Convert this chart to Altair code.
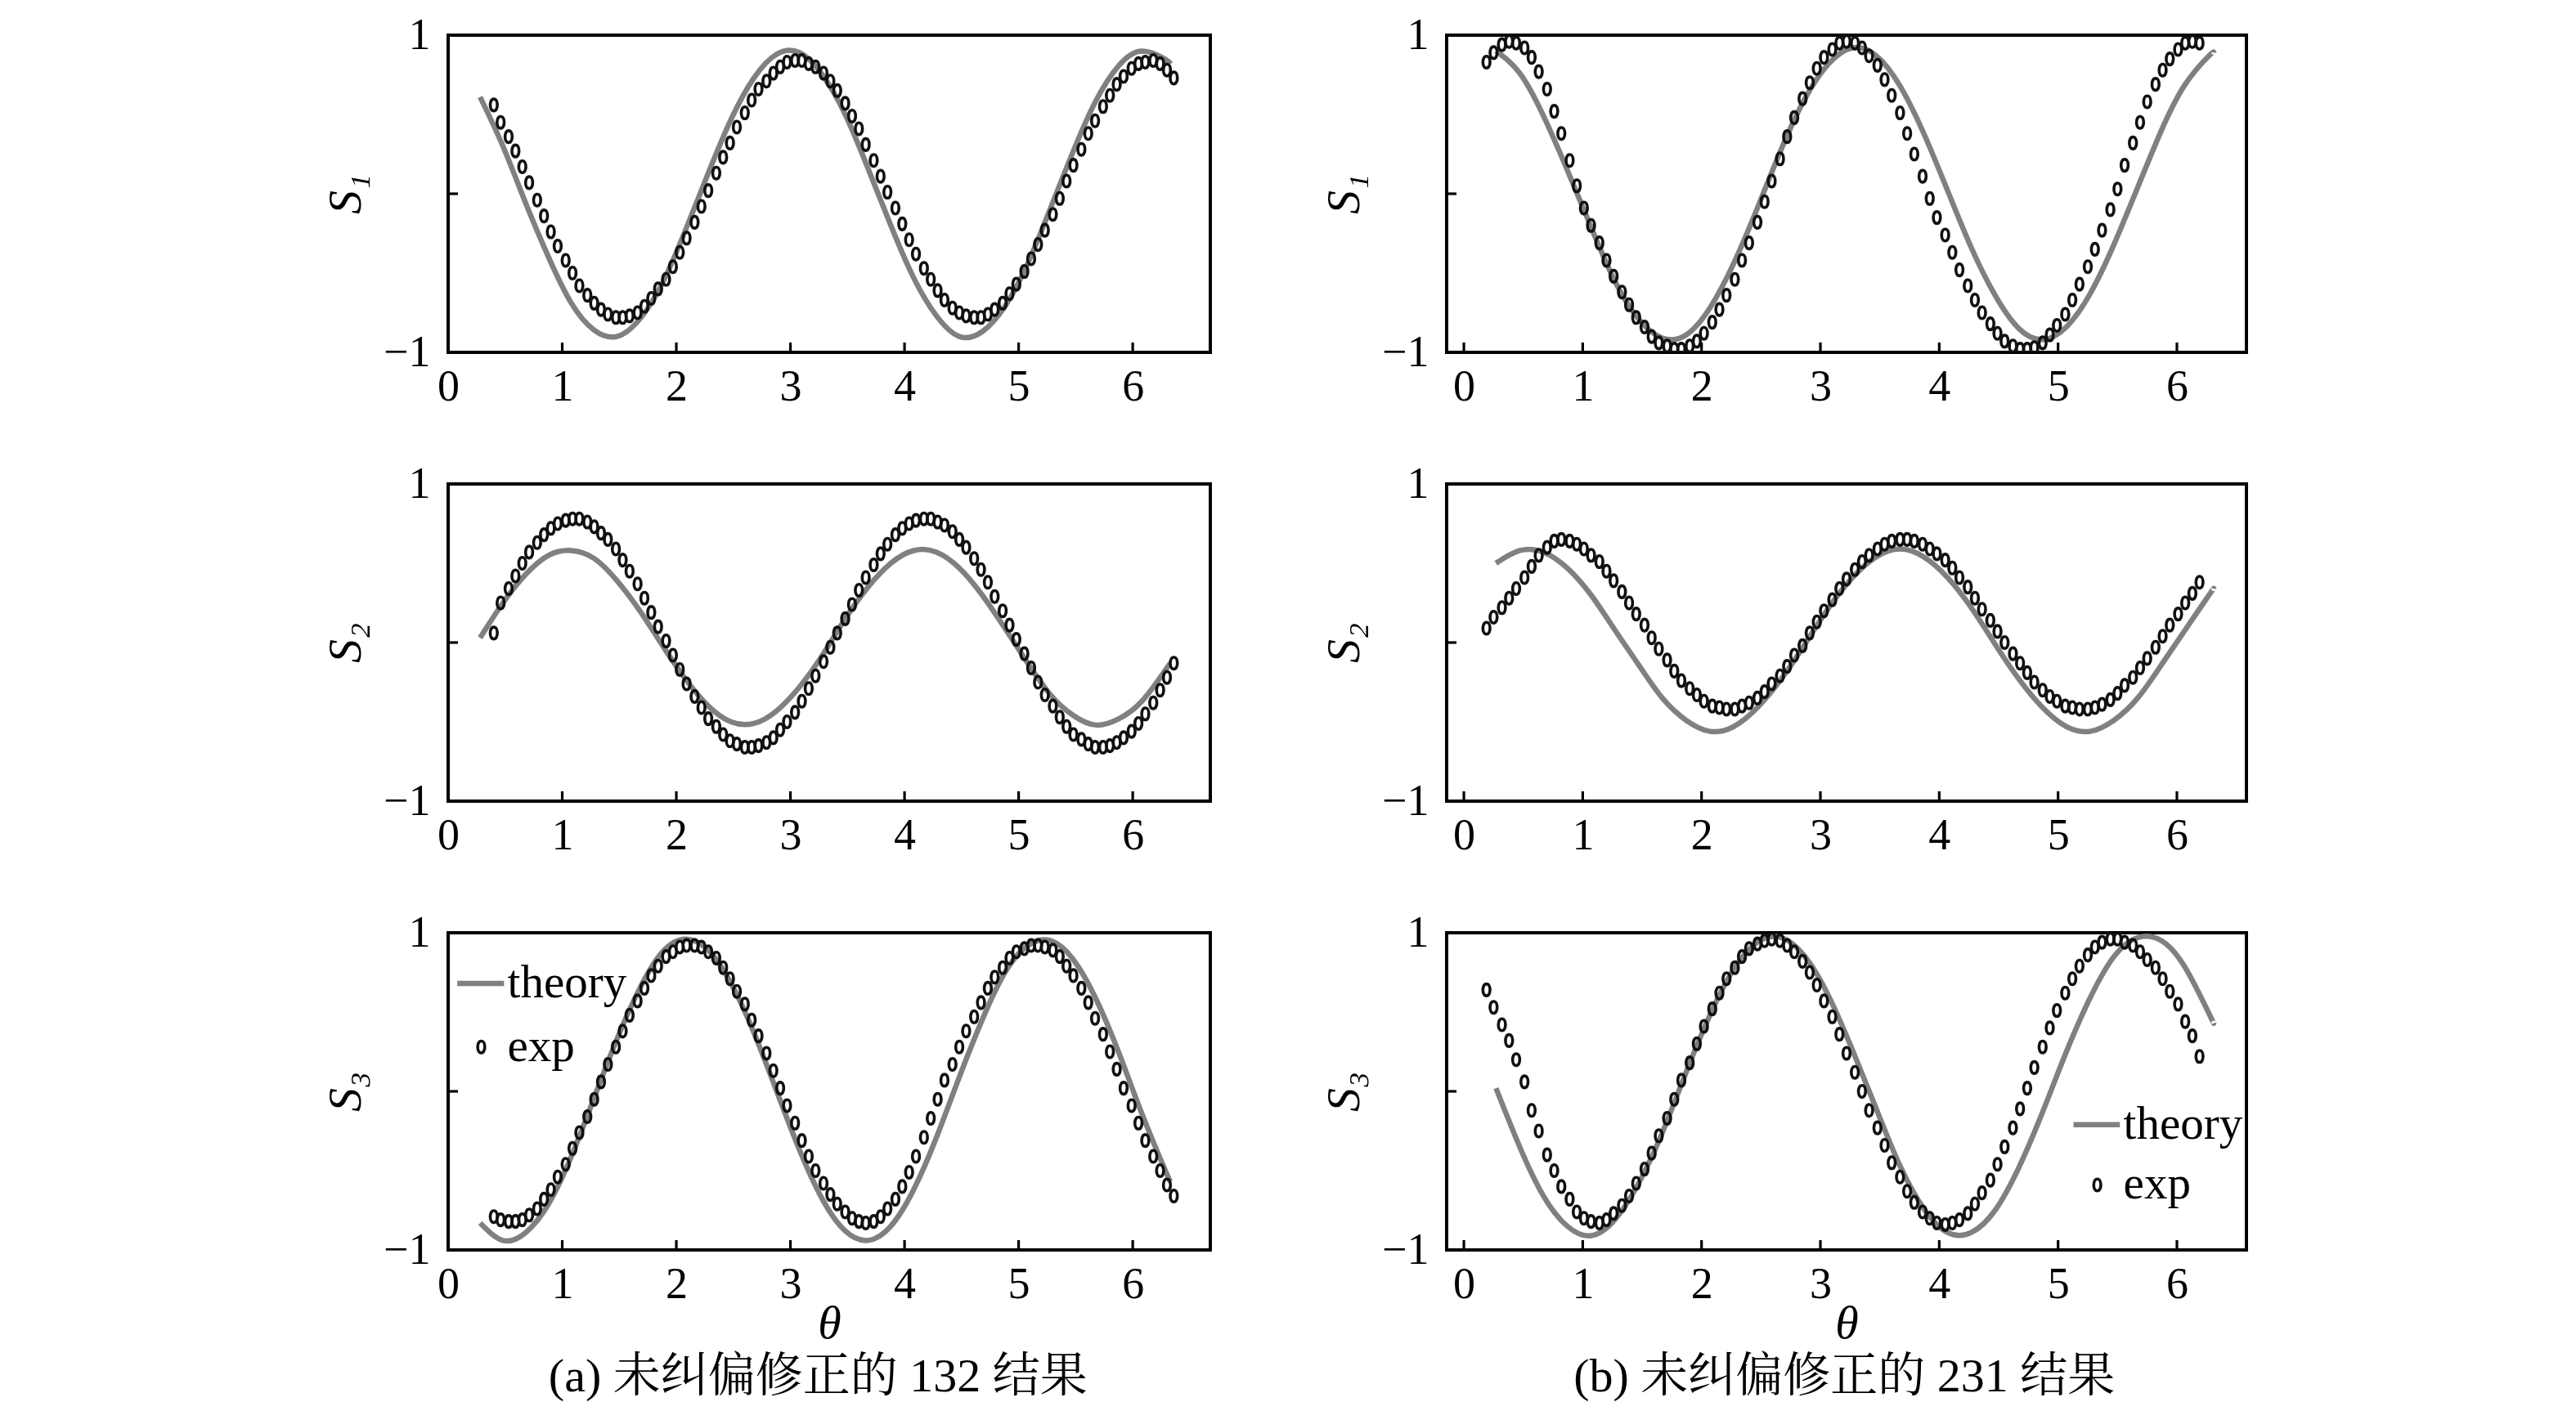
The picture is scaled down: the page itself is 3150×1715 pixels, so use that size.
import altair as alt
import pandas as pd

# ---------------- data ----------------
XTICKS = [0, 1, 2, 3, 4, 5, 6]
YTICKS = [-1, 0, 1]

# experiment angles (column a and column b)
X_A = [0.40,0.46,0.53,0.59,0.65,0.71,0.78,0.84,0.90,0.96,
       1.03,1.09,1.15,1.22,1.28,1.34,1.40,1.47,1.53,1.59,
       1.66,1.72,1.78,1.84,1.91,1.97,2.03,2.09,2.16,2.22,
       2.28,2.35,2.41,2.47,2.53,2.60,2.66,2.72,2.79,2.85,
       2.91,2.97,3.04,3.10,3.16,3.22,3.29,3.35,3.41,3.48,
       3.54,3.60,3.66,3.73,3.79,3.85,3.92,3.98,4.04,4.10,
       4.17,4.23,4.29,4.35,4.42,4.48,4.54,4.61,4.67,4.73,
       4.79,4.86,4.92,4.98,5.05,5.11,5.17,5.23,5.30,5.36,
       5.42,5.48,5.55,5.61,5.67,5.74,5.80,5.86,5.92,5.99,
       6.05,6.11,6.18,6.24,6.30,6.36]
X_B = [0.19,0.25,0.32,0.38,0.44,0.51,0.57,0.63,0.70,0.76,
       0.82,0.89,0.95,1.01,1.07,1.14,1.20,1.26,1.33,1.39,
       1.45,1.52,1.58,1.64,1.71,1.77,1.83,1.90,1.96,2.02,
       2.09,2.15,2.21,2.28,2.34,2.40,2.47,2.53,2.59,2.66,
       2.72,2.78,2.85,2.91,2.97,3.03,3.10,3.16,3.22,3.29,
       3.35,3.41,3.48,3.54,3.60,3.67,3.73,3.79,3.86,3.92,
       3.98,4.05,4.11,4.17,4.24,4.30,4.36,4.43,4.49,4.55,
       4.62,4.68,4.74,4.80,4.87,4.93,4.99,5.06,5.12,5.18,
       5.25,5.31,5.37,5.44,5.50,5.56,5.63,5.69,5.75,5.82,
       5.88,5.94,6.01,6.07,6.13,6.19]

# theory angles
TX_A = [0.28,0.48,0.68,0.88,1.08,1.28,1.48,1.68,1.88,2.08,2.28,2.48,2.68,2.88,3.08,3.28,
        3.48,3.68,3.88,4.08,4.28,4.48,4.68,4.88,5.08,5.28,5.48,5.68,5.88,6.08,6.28,6.33]
TX_B = [0.27,0.47,0.67,0.87,1.07,1.27,1.47,1.67,1.87,2.07,2.27,2.47,2.67,2.87,3.07,3.27,
        3.47,3.67,3.87,4.07,4.27,4.47,4.67,4.87,5.07,5.27,5.47,5.67,5.87,6.07,6.27,6.31]

# (a) 132 without correction
A_S1_TH = [0.61,0.30,-0.06,-0.40,-0.69,-0.86,-0.90,-0.79,-0.56,-0.23,0.13,0.47,0.73,0.88,0.89,0.75,
           0.50,0.16,-0.20,-0.53,-0.77,-0.90,-0.87,-0.71,-0.44,-0.09,0.27,0.59,0.81,0.90,0.85,0.82]
A_S1_EXP = [0.56,0.45,0.36,0.27,0.17,0.07,-0.04,-0.14,-0.24,-0.33,
            -0.42,-0.50,-0.58,-0.64,-0.69,-0.73,-0.76,-0.78,-0.78,-0.77,
            -0.75,-0.71,-0.66,-0.60,-0.54,-0.46,-0.37,-0.28,-0.18,-0.08,
            0.02,0.13,0.23,0.32,0.42,0.51,0.59,0.66,0.71,0.76,
            0.80,0.83,0.84,0.84,0.82,0.80,0.76,0.71,0.65,0.57,
            0.49,0.41,0.31,0.21,0.11,0.01,-0.09,-0.19,-0.29,-0.38,
            -0.47,-0.54,-0.61,-0.67,-0.72,-0.75,-0.77,-0.78,-0.78,-0.76,
            -0.73,-0.69,-0.63,-0.57,-0.49,-0.41,-0.32,-0.23,-0.13,-0.03,
            0.08,0.18,0.28,0.38,0.46,0.55,0.62,0.69,0.74,0.79,
            0.82,0.83,0.84,0.82,0.78,0.73]
A_S2_TH = [0.03,0.25,0.43,0.55,0.58,0.53,0.39,0.20,-0.02,-0.23,-0.40,-0.50,-0.51,-0.43,-0.28,-0.08,
           0.15,0.35,0.50,0.58,0.57,0.47,0.30,0.09,-0.13,-0.33,-0.46,-0.52,-0.48,-0.37,-0.18,-0.13]
A_S2_EXP = [0.06,0.25,0.34,0.42,0.50,0.57,0.63,0.68,0.72,0.75,
            0.77,0.78,0.78,0.76,0.73,0.69,0.65,0.59,0.52,0.45,
            0.37,0.28,0.19,0.10,0.01,-0.08,-0.17,-0.26,-0.34,-0.41,
            -0.48,-0.53,-0.58,-0.62,-0.64,-0.66,-0.66,-0.65,-0.63,-0.60,
            -0.55,-0.50,-0.44,-0.37,-0.29,-0.21,-0.12,-0.03,0.06,0.15,
            0.24,0.33,0.41,0.49,0.56,0.62,0.68,0.72,0.75,0.77,
            0.78,0.78,0.76,0.74,0.70,0.65,0.60,0.53,0.46,0.38,
            0.29,0.20,0.11,0.02,-0.07,-0.16,-0.25,-0.33,-0.40,-0.47,
            -0.53,-0.58,-0.61,-0.64,-0.66,-0.66,-0.65,-0.63,-0.60,-0.56,
            -0.51,-0.45,-0.38,-0.30,-0.22,-0.13]
A_S3_TH = [-0.83,-0.94,-0.89,-0.71,-0.41,-0.04,0.33,0.65,0.88,0.96,0.89,0.68,0.37,0.00,-0.37,-0.68,
           -0.88,-0.94,-0.85,-0.62,-0.29,0.09,0.45,0.75,0.92,0.95,0.83,0.58,0.24,-0.14,-0.49,-0.57]
A_S3_EXP = [-0.79,-0.81,-0.82,-0.82,-0.81,-0.78,-0.74,-0.68,-0.62,-0.54,
            -0.46,-0.36,-0.26,-0.16,-0.05,0.06,0.17,0.28,0.38,0.48,
            0.57,0.65,0.73,0.79,0.85,0.88,0.91,0.92,0.92,0.91,
            0.88,0.84,0.78,0.71,0.63,0.55,0.45,0.35,0.24,0.13,
            0.02,-0.09,-0.20,-0.31,-0.41,-0.50,-0.58,-0.65,-0.71,-0.76,
            -0.80,-0.82,-0.83,-0.82,-0.79,-0.74,-0.68,-0.60,-0.51,-0.41,
            -0.29,-0.17,-0.05,0.07,0.17,0.28,0.38,0.47,0.56,0.65,
            0.72,0.78,0.84,0.88,0.90,0.92,0.92,0.91,0.89,0.85,
            0.79,0.73,0.65,0.56,0.46,0.36,0.25,0.14,0.02,-0.09,
            -0.20,-0.31,-0.41,-0.50,-0.59,-0.66]

# (b) 231 without correction
B_S1_TH = [0.90,0.76,0.49,0.15,-0.21,-0.55,-0.79,-0.91,-0.89,-0.72,-0.44,-0.09,0.28,0.60,0.82,0.92,
           0.87,0.68,0.38,0.02,-0.34,-0.64,-0.85,-0.92,-0.84,-0.63,-0.32,0.04,0.40,0.69,0.87,0.89]
B_S1_EXP = [0.83,0.89,0.94,0.96,0.95,0.92,0.86,0.77,0.66,0.52,
            0.38,0.21,0.05,-0.09,-0.20,-0.31,-0.42,-0.52,-0.62,-0.70,
            -0.78,-0.84,-0.90,-0.94,-0.96,-0.98,-0.98,-0.96,-0.93,-0.88,
            -0.81,-0.73,-0.64,-0.54,-0.42,-0.31,-0.18,-0.05,0.08,0.22,
            0.36,0.48,0.60,0.70,0.79,0.86,0.91,0.95,0.96,0.95,
            0.92,0.87,0.81,0.72,0.62,0.51,0.38,0.25,0.11,-0.03,
            -0.15,-0.26,-0.37,-0.48,-0.58,-0.67,-0.75,-0.82,-0.88,-0.93,
            -0.96,-0.98,-0.98,-0.97,-0.94,-0.89,-0.83,-0.76,-0.67,-0.57,
            -0.46,-0.35,-0.23,-0.10,0.03,0.18,0.32,0.45,0.58,0.69,
            0.78,0.85,0.91,0.95,0.96,0.95]
B_S2_TH = [0.50,0.58,0.57,0.47,0.30,0.08,-0.14,-0.35,-0.49,-0.56,-0.53,-0.41,-0.23,-0.01,0.22,0.41,
           0.54,0.59,0.54,0.41,0.22,-0.01,-0.23,-0.41,-0.53,-0.56,-0.49,-0.35,-0.14,0.08,0.30,0.34]
B_S2_EXP = [0.09,0.16,0.22,0.28,0.34,0.41,0.48,0.55,0.60,0.64,
            0.65,0.64,0.62,0.59,0.55,0.51,0.45,0.39,0.32,0.25,
            0.18,0.11,0.03,-0.04,-0.11,-0.18,-0.24,-0.29,-0.33,-0.37,
            -0.40,-0.41,-0.42,-0.42,-0.40,-0.38,-0.35,-0.31,-0.26,-0.21,
            -0.15,-0.08,-0.02,0.06,0.13,0.20,0.27,0.34,0.40,0.46,
            0.51,0.55,0.59,0.62,0.64,0.65,0.65,0.64,0.62,0.59,
            0.56,0.52,0.47,0.41,0.35,0.28,0.21,0.14,0.07,0.00,
            -0.07,-0.13,-0.19,-0.25,-0.30,-0.34,-0.37,-0.40,-0.41,-0.42,
            -0.42,-0.41,-0.39,-0.36,-0.32,-0.27,-0.22,-0.16,-0.10,-0.03,
            0.04,0.11,0.18,0.25,0.31,0.38]
B_S3_TH = [0.02,-0.35,-0.66,-0.85,-0.91,-0.81,-0.58,-0.26,0.12,0.48,0.77,0.94,0.97,0.85,0.60,0.26,
           -0.11,-0.47,-0.74,-0.89,-0.89,-0.75,-0.48,-0.13,0.25,0.59,0.85,0.97,0.95,0.78,0.49,0.43]
B_S3_EXP = [0.64,0.53,0.42,0.32,0.20,0.06,-0.12,-0.25,-0.40,-0.50,
            -0.60,-0.68,-0.76,-0.80,-0.82,-0.83,-0.81,-0.77,-0.72,-0.66,
            -0.58,-0.49,-0.39,-0.28,-0.17,-0.05,0.07,0.18,0.30,0.41,
            0.52,0.62,0.71,0.78,0.85,0.90,0.93,0.95,0.96,0.95,
            0.92,0.88,0.82,0.75,0.67,0.57,0.47,0.36,0.24,0.12,
            0.00,-0.12,-0.23,-0.34,-0.45,-0.54,-0.63,-0.70,-0.76,-0.80,
            -0.83,-0.84,-0.83,-0.81,-0.77,-0.71,-0.64,-0.56,-0.46,-0.35,
            -0.23,-0.11,0.02,0.15,0.28,0.40,0.51,0.62,0.71,0.79,
            0.86,0.91,0.94,0.96,0.96,0.94,0.92,0.88,0.83,0.78,
            0.71,0.63,0.55,0.44,0.35,0.22]

CAPTION_A = "(a) 未纠偏修正的 132 结果"
CAPTION_B = "(b) 未纠偏修正的 231 结果"
LEGEND_LABELS = ["theory", "exp"]

# ---------------- styling / layout ----------------
SERIF = "Liberation Serif"
CAPFONT = "Liberation Serif, Noto Serif CJK SC, Noto Sans CJK SC"
GRAY = "#808080"
INK = "#111111"
ELLIPSE = "M0,-1C0.8,-1 0.8,1 0,1C-0.8,1 -0.8,-1 0,-1Z"
MSIZE = 210
MSTROKE = 3.6
H = 388
W_A, W_B = 932, 978
DOM_A = [0, 6.68]
DOM_B = [-0.145, 6.585]
# legend placement (data units): line x0, x1, line y, marker x, marker y, text x
LEG_A = dict(lx0=0.08, lx1=0.49, ly=0.68, mx=0.29, my=0.28, tx=0.52)
LEG_B = dict(lx0=5.13, lx1=5.52, ly=-0.21, mx=5.33, my=-0.59, tx=5.55)


def panel(xe, ye, xt, yt, dom, width, ylab, xtitle=None, leg=None):
    xs = alt.Scale(domain=dom, nice=False, zero=False)
    ys = alt.Scale(domain=[-1, 1], nice=False, zero=False)
    xargs = dict(values=XTICKS, format="d", ticks=False, domain=False, grid=False,
                 labelFlush=False, labelOverlap=False, labelPadding=15,
                 labelFont=SERIF, labelFontSize=54, labelColor="black")
    if xtitle:
        xaxis = alt.Axis(title=xtitle, titleFont=SERIF, titleFontSize=58,
                         titleFontStyle="italic", titleFontWeight="normal",
                         titleColor="black", titleY=90, titleBaseline="middle", **xargs)
    else:
        xaxis = alt.Axis(title=None, **xargs)
    yaxis = alt.Axis(values=YTICKS, format="d", ticks=False, domain=False, grid=False,
                     labelFlush=False, labelOverlap=False, labelPadding=22,
                     labelFont=SERIF, labelFontSize=54, labelColor="black",
                     title=ylab, titleFont=SERIF, titleFontSize=58,
                     titleFontStyle="italic", titleFontWeight="normal",
                     titleColor="black", titlePadding=16)
    X = alt.X("x:Q", scale=xs, axis=xaxis)
    Y = alt.Y("y:Q", scale=ys, axis=yaxis)

    theory = alt.Chart(pd.DataFrame({"x": xt, "y": yt})).mark_line(
        color=GRAY, strokeWidth=6.5, interpolate="natural").encode(x=X, y=Y)
    exp = alt.Chart(pd.DataFrame({"x": xe, "y": ye})).mark_point(
        shape=ELLIPSE, size=MSIZE, filled=False, stroke=INK, strokeWidth=MSTROKE,
        opacity=1, clip=True).encode(x=X, y=Y)
    xt_rules = alt.Chart(pd.DataFrame({"x": XTICKS})).mark_rule(
        color="black", strokeWidth=3.2).encode(x=X, y=alt.value(H), y2=alt.value(H - 12))
    yt_rule = alt.Chart(pd.DataFrame({"y": [0]})).mark_rule(
        color="black", strokeWidth=3.2).encode(y=Y, x=alt.value(0), x2=alt.value(12))
    layers = [theory, exp, xt_rules, yt_rule]
    if leg:
        ll = alt.Chart(pd.DataFrame({"x": [leg["lx0"], leg["lx1"]], "y": [leg["ly"], leg["ly"]]})).mark_line(
            color=GRAY, strokeWidth=6.5).encode(x=X, y=Y)
        lm = alt.Chart(pd.DataFrame({"x": [leg["mx"]], "y": [leg["my"]]})).mark_point(
            shape=ELLIPSE, size=MSIZE, filled=False, stroke=INK, strokeWidth=MSTROKE,
            opacity=1).encode(x=X, y=Y)
        lt = alt.Chart(pd.DataFrame({"x": [leg["tx"], leg["tx"]], "y": [leg["ly"], leg["my"]],
                                     "t": LEGEND_LABELS})).mark_text(
            align="left", baseline="middle", font=SERIF, fontSize=57, color="black").encode(
            x=X, y=Y, text="t:N")
        layers += [ll, lm, lt]
    return alt.layer(*layers).properties(width=width, height=H)


def cap(text, dx):
    return alt.TitleParams(text=text, orient="bottom", anchor="middle", font=CAPFONT,
                           fontSize=58, fontWeight="normal", color="black", offset=6, dx=dx)


a1 = panel(X_A, A_S1_EXP, TX_A, A_S1_TH, DOM_A, W_A, "S₁")
a2 = panel(X_A, A_S2_EXP, TX_A, A_S2_TH, DOM_A, W_A, "S₂")
a3 = panel(X_A, A_S3_EXP, TX_A, A_S3_TH, DOM_A, W_A, "S₃", xtitle="θ", leg=LEG_A)
b1 = panel(X_B, B_S1_EXP, TX_B, B_S1_TH, DOM_B, W_B, "S₁")
b2 = panel(X_B, B_S2_EXP, TX_B, B_S2_TH, DOM_B, W_B, "S₂")
b3 = panel(X_B, B_S3_EXP, TX_B, B_S3_TH, DOM_B, W_B, "S₃", xtitle="θ", leg=LEG_B)

colA = alt.vconcat(a1, a2, a3, spacing=161, bounds="flush", title=cap(CAPTION_A, 63))
colB = alt.vconcat(b1, b2, b3, spacing=161, bounds="flush", title=cap(CAPTION_B, 74))

chart = alt.hconcat(colA, colB, spacing=131).properties(
    padding={"left": 384, "top": 6, "right": 10, "bottom": 0},
    background="white",
).configure_view(stroke="black", strokeWidth=4)

chart.save("out.html", embed_options={"renderer": "svg", "actions": False})
